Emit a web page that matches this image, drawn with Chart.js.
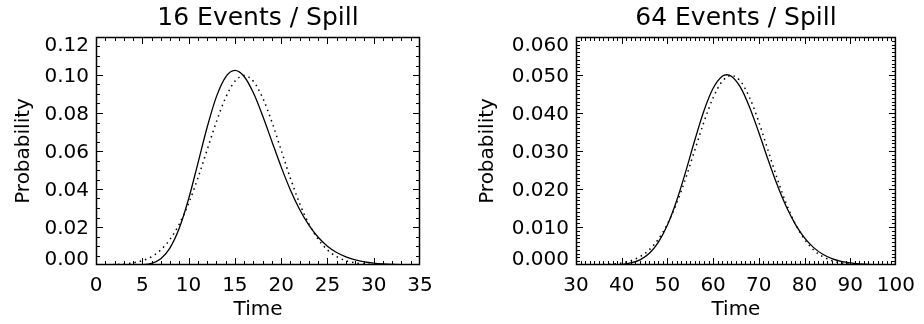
<!DOCTYPE html>
<html>
<head>
<meta charset="utf-8">
<script src="https://cdn.jsdelivr.net/npm/chart.js@4.4.1/dist/chart.umd.min.js"></script>
<style>
  html, body { margin: 0; padding: 0; background: #fff; }
  #wrap { display: flex; width: 924px; height: 324px; }
  canvas { display: block; }
</style>
</head>
<body>
<div id="wrap">
  <canvas id="left" width="462" height="324"></canvas>
  <canvas id="right" width="462" height="324"></canvas>
</div>
<script>
'use strict';

// 16 events / spill
let time16 = [0, 1, 2, 3, 4, 5, 6, 7, 8, 9, 10, 11, 12, 13, 14, 15, 16, 17,
  18, 19, 20, 21, 22, 23, 24, 25, 26, 27, 28, 29, 30, 31, 32, 33, 34, 35];
let solid16 = [0, 0, 0, 0.0000005, 0.000015, 0.000157, 0.00089, 0.00331, 0.00902,
  0.01943, 0.03472, 0.05335, 0.07239, 0.08850, 0.09891, 0.10244, 0.09921, 0.09061,
  0.07857, 0.06505, 0.05165, 0.03950, 0.02920, 0.02093, 0.01458, 0.00989, 0.00655,
  0.00425, 0.00270, 0.00168, 0.00103, 0.00062, 0.00037, 0.00021, 0.00012, 0.00007];
let dotted16 = [0.000033, 0.000088, 0.000218, 0.000508, 0.001108, 0.002274, 0.004382,
  0.007935, 0.013498, 0.02157, 0.03238, 0.04566, 0.06049, 0.07528, 0.08802, 0.09667,
  0.09974, 0.09667, 0.08802, 0.07528, 0.06049, 0.04566, 0.03238, 0.02157, 0.013498,
  0.007935, 0.004382, 0.002274, 0.001108, 0.000508, 0.000218, 0.000088, 0.000033,
  0.000011, 0.000004, 0.000001];
let xTicks16 = [0, 5, 10, 15, 20, 25, 30, 35];
let yTicks16 = [0, 0.02, 0.04, 0.06, 0.08, 0.10, 0.12];

// 64 events / spill
let solidTime64 = [30, 32, 34, 36, 38, 40, 42, 44, 46, 48, 50, 52, 54, 56, 58, 60, 62, 63,
  64, 66, 68, 70, 72, 74, 76, 78, 80, 82, 84, 86, 88, 90, 92, 94, 96, 98, 100];
let solid64 = [0, 0, 0.000003, 0.000013, 0.000053, 0.000182, 0.000532, 0.00135, 0.003006,
  0.00594, 0.01052, 0.01685, 0.02457, 0.03289, 0.04061, 0.04651, 0.04967, 0.05007,
  0.04968, 0.04673, 0.04147, 0.03486, 0.02782, 0.02116, 0.01537, 0.01068, 0.00712,
  0.00457, 0.00282, 0.00168, 0.00097, 0.00054, 0.00029, 0.00015, 0.000078, 0.000039, 0.000019];
let dotTime64 = [30, 32, 34, 36, 38, 40, 42, 44, 46, 48, 50, 52, 54, 56, 58, 60, 62,
  64, 66, 68, 70, 72, 74, 76, 78, 80, 82, 84, 86, 88, 90, 92, 94, 96, 98, 100];
let dotted64 = [0.000006, 0.000017, 0.000044, 0.000109, 0.000254, 0.000554, 0.001137,
  0.002191, 0.003967, 0.006749, 0.010785, 0.016190, 0.022831, 0.030247, 0.037642,
  0.044009, 0.048334, 0.049868, 0.048334, 0.044009, 0.037642, 0.030247, 0.022831,
  0.016190, 0.010785, 0.006749, 0.003967, 0.002191, 0.001137, 0.000554, 0.000254,
  0.000109, 0.000044, 0.000017, 0.000006, 0.000002];
let xTicks64 = [30, 40, 50, 60, 70, 80, 90, 100];
let yTicks64 = [0, 0.01, 0.02, 0.03, 0.04, 0.05, 0.06];

let fontName = 'DejaVu Sans';
Chart.defaults.font.family = fontName;
Chart.defaults.color = '#000';

// box with inward ticks on all four sides, y labels and title (IDL look)
let idlBox = {
  id: 'idlBox',
  afterDatasetsDraw(chart, args, o) {
    let ctx = chart.ctx;
    let a = chart.chartArea;
    let xs = chart.scales.x;
    let ys = chart.scales.y;
    ctx.save();
    ctx.strokeStyle = '#000';
    ctx.lineWidth = 1.5;
    ctx.strokeRect(a.left + 0.5, a.top + 0.5, a.right - a.left - 1, a.bottom - a.top - 1);
    ctx.lineWidth = 1;
    ctx.beginPath();
    let n = Math.round((xs.max - xs.min) / o.xMinor);
    for (let i = 1; i < n; i++) {
      let px = Math.round(xs.getPixelForValue(xs.min + i * o.xMinor)) + 0.5;
      let len = i % o.xEvery === 0 ? 7 : 4;
      ctx.moveTo(px, a.bottom);
      ctx.lineTo(px, a.bottom - len);
      ctx.moveTo(px, a.top);
      ctx.lineTo(px, a.top + len);
    }
    n = Math.round((ys.max - ys.min) / o.yMinor);
    for (let i = 1; i < n; i++) {
      let py = Math.round(ys.getPixelForValue(ys.min + i * o.yMinor)) + 0.5;
      let len = i % o.yEvery === 0 ? 7 : 4;
      ctx.moveTo(a.left, py);
      ctx.lineTo(a.left + len, py);
      ctx.moveTo(a.right, py);
      ctx.lineTo(a.right - len, py);
    }
    ctx.stroke();

    ctx.fillStyle = '#000';
    ctx.font = '20px "' + fontName + '"';
    ctx.textAlign = 'right';
    ctx.textBaseline = 'alphabetic';
    ys.ticks.forEach(t => {
      let py = ys.getPixelForValue(t.value);
      py = Math.min(Math.max(py, a.top + 7), a.bottom - 7);
      ctx.fillText(t.value.toFixed(o.digits), a.left - 7, py + 7.3);
    });

    ctx.font = '25px "' + fontName + '"';
    ctx.textAlign = 'center';
    ctx.fillText(o.title, (a.left + a.right) / 2, 25);
    ctx.restore();
  }
};

function buildChart(id, d) {
  let lineSet = (times, vals, dash, w) => ({
    data: times.map((t, i) => ({x: t, y: vals[i]})),
    borderColor: '#000',
    borderWidth: w,
    borderDash: dash,
    pointRadius: 0,
    fill: false,
    cubicInterpolationMode: 'monotone'
  });
  return new Chart(document.getElementById(id), {
    type: 'line',
    data: {
      datasets: [
        lineSet(d.solidT, d.solid, [], 1.3),
        lineSet(d.dotT, d.dotted, [1.5, 4], 1.5)
      ]
    },
    options: {
      responsive: false,
      animation: false,
      devicePixelRatio: 1,
      layout: {padding: {top: 37, right: d.padRight, left: 0, bottom: 0}},
      plugins: {
        legend: {display: false},
        tooltip: {enabled: false},
        idlBox: {title: d.title, xMinor: d.xMinor, xEvery: d.xEvery,
          yMinor: d.yMinor, yEvery: d.yEvery, digits: d.digits}
      },
      scales: {
        x: {
          type: 'linear',
          min: d.xTicks[0],
          max: d.xTicks[d.xTicks.length - 1],
          afterBuildTicks: s => { s.ticks = d.xTicks.map(v => ({value: v})); },
          afterFit: s => { s.height = 59; },
          grid: {display: false, drawTicks: false},
          border: {display: false},
          ticks: {color: '#000', font: {size: 20}, padding: 9, maxRotation: 0, autoSkip: false},
          title: {display: true, text: 'Time', color: '#000', font: {size: 20},
            padding: {top: 0, bottom: 2}}
        },
        y: {
          type: 'linear',
          min: d.yTicks[0],
          max: d.yTicks[d.yTicks.length - 1],
          afterBuildTicks: s => { s.ticks = d.yTicks.map(v => ({value: v})); },
          afterFit: s => { s.width = d.axisWidth; },
          grid: {display: false, drawTicks: false},
          border: {display: false},
          ticks: {display: false},
          title: {display: true, text: 'Probability', color: '#000', font: {size: 20},
            padding: {top: d.titlePad, bottom: 0}}
        }
      }
    },
    plugins: [idlBox]
  });
}

buildChart('left', {
  title: '16 Events / Spill',
  solidT: time16, solid: solid16, dotT: time16, dotted: dotted16,
  xTicks: xTicks16, yTicks: yTicks16,
  xMinor: 1, xEvery: 5, yMinor: 0.005, yEvery: 4, digits: 2,
  axisWidth: 96, padRight: 42, titlePad: 12
});

buildChart('right', {
  title: '64 Events / Spill',
  solidT: solidTime64, solid: solid64, dotT: dotTime64, dotted: dotted64,
  xTicks: xTicks64, yTicks: yTicks64,
  xMinor: 1, xEvery: 10, yMinor: 0.001, yEvery: 10, digits: 3,
  axisWidth: 114, padRight: 24, titlePad: 14
});
</script>
</body>
</html>
